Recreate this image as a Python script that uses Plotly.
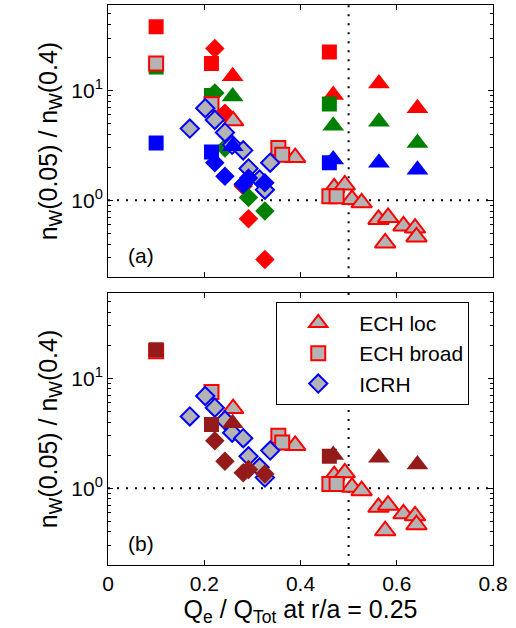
import plotly.graph_objects as go

# ---------------- data ----------------
# Experimental points (grey fill), identical in both panels
ech_loc_x = [0.26, 0.389, 0.47, 0.492, 0.507, 0.527, 0.562, 0.582, 0.576, 0.614, 0.638, 0.641]
ech_loc_y = [5.3, 2.45, 1.3, 1.38, 1.02, 0.95, 0.67, 0.70, 0.41, 0.585, 0.56, 0.465]
ech_broad_x = [0.1, 0.215, 0.354, 0.362, 0.46, 0.475]
ech_broad_y = [17.6, 7.5, 3.0, 2.6, 1.09, 1.09]
icrh_x = [0.17, 0.202, 0.222, 0.243, 0.258, 0.281, 0.292, 0.315, 0.326, 0.337]
icrh_y = [4.5, 6.9, 5.4, 4.15, 3.2, 2.85, 1.95, 1.55, 1.25, 2.2]

# Model points (filled)
sq_x = [0.1, 0.215, 0.46]
sq_red = [38.0, 17.6, 22.4]
sq_green = [16.4, 9.0, 7.55]
sq_blue = [3.33, 2.75, 2.2]
sq_dred = [18.2, 3.8, 1.95]

tri_x = [0.259, 0.468, 0.563, 0.643]
tri_red = [13.5, 9.1, 11.6, 6.9]
tri_green = [8.8, 4.77, 5.2, 3.33]
tri_blue = [3.1, 2.35, 2.2, 1.9]
tri_dred = [3.9, 2.0, 1.89, 1.64]

dia_x = [0.222, 0.243, 0.281, 0.292, 0.326]
dia_red = [24.1, 6.2, 1.35, 0.68, 0.29]
dia_green = [9.5, 3.0, 1.4, 1.06, 0.8]
dia_blue = [2.2, 1.66, 1.4, 1.6, 1.45]
dia_dred = [2.7, 1.76, 1.38, 1.48, 1.35]

x_ticks = [0, 0.2, 0.4, 0.6, 0.8]
x_ticklabels = ["0", "0.2", "0.4", "0.6", "0.8"]
y_ticks = [1, 10]
y_ticklabels = ["10<sup>0</sup>", "10<sup>1</sup>"]
y_minor = [0.2, 0.3, 0.4, 0.5, 0.6, 0.7, 0.8, 0.9, 2, 3, 4, 5, 6, 7, 8, 9, 20, 30, 40, 50, 60]

# ---------------- style ----------------
RED = "#FF0000"
GREEN = "#008000"
BLUE = "#0000FF"
DRED = "#951B1B"
GREY = "#B3B3B3"
FONT = "Liberation Sans, Arial, sans-serif"
SZ = {"square": 14, "triangle-up": 18, "diamond": 14}

fig = go.Figure()


def add_model(xs, ys, symbol, color, xa, ya):
    fig.add_trace(go.Scatter(
        x=xs, y=ys, mode="markers", xaxis=xa, yaxis=ya, showlegend=False,
        marker=dict(symbol=symbol, size=SZ[symbol] + 1, color=color, line=dict(width=0))))


def add_exp(xs, ys, symbol, edge, name, xa, ya, legend):
    fig.add_trace(go.Scatter(
        x=xs, y=ys, mode="markers", xaxis=xa, yaxis=ya, name=name, showlegend=legend,
        marker=dict(symbol=symbol, size=SZ[symbol], color=GREY, line=dict(width=2, color=edge))))


# Top panel (a): red, green, experiments, blue
for xs, ys, sym in [(sq_x, sq_red, "square"), (tri_x, tri_red, "triangle-up"), (dia_x, dia_red, "diamond")]:
    add_model(xs, ys, sym, RED, "x", "y")
for xs, ys, sym in [(sq_x, sq_green, "square"), (tri_x, tri_green, "triangle-up"), (dia_x, dia_green, "diamond")]:
    add_model(xs, ys, sym, GREEN, "x", "y")
add_exp(ech_loc_x, ech_loc_y, "triangle-up", RED, "ECH loc", "x", "y", False)
add_exp(ech_broad_x, ech_broad_y, "square", RED, "ECH broad", "x", "y", False)
add_exp(icrh_x, icrh_y, "diamond", BLUE, "ICRH", "x", "y", False)
for xs, ys, sym in [(sq_x, sq_blue, "square"), (tri_x, tri_blue, "triangle-up"), (dia_x, dia_blue, "diamond")]:
    add_model(xs, ys, sym, BLUE, "x", "y")

# Bottom panel (b): experiments, dark red
add_exp(ech_loc_x, ech_loc_y, "triangle-up", RED, "ECH loc", "x2", "y2", True)
add_exp(ech_broad_x, ech_broad_y, "square", RED, "ECH broad", "x2", "y2", True)
add_exp(icrh_x, icrh_y, "diamond", BLUE, "ICRH", "x2", "y2", True)
for xs, ys, sym in [(sq_x, sq_dred, "square"), (tri_x, tri_dred, "triangle-up"), (dia_x, dia_dred, "diamond")]:
    add_model(xs, ys, sym, DRED, "x2", "y2")

xcommon = dict(range=[0, 0.8], tickvals=x_ticks, ticktext=x_ticklabels, ticks="inside",
               ticklen=5, tickcolor="black", showline=True, linecolor="black", linewidth=1,
               mirror="allticks", showgrid=False, zeroline=False)
ycommon = dict(type="log", range=[-0.699, 1.778], tickvals=y_ticks, ticktext=y_ticklabels,
               ticks="inside", ticklen=5, tickcolor="black", showline=True, linecolor="black",
               linewidth=1, mirror="allticks", showgrid=False, zeroline=False,
               minor=dict(tickvals=y_minor, ticks="inside", ticklen=3, tickcolor="black", showgrid=False),
               title=dict(text="n<sub>W</sub>(0.05) / n<sub>W</sub>(0.4)", standoff=6))

fig.update_layout(
    width=516, height=628,
    margin=dict(l=108, r=23, t=5, b=63),
    paper_bgcolor="white", plot_bgcolor="white",
    font=dict(family=FONT, size=21, color="black"),
    xaxis=dict(domain=[0, 1], anchor="y", showticklabels=False, **xcommon),
    yaxis=dict(domain=[0.514, 1.0], anchor="x", **ycommon),
    xaxis2=dict(domain=[0, 1], anchor="y2",
                title=dict(text="Q<sub>e</sub> / Q<sub>Tot</sub> at r/a = 0.25", standoff=0), **xcommon),
    yaxis2=dict(domain=[0, 0.486], anchor="x2", **ycommon),
    legend=dict(x=0.437, y=0.47, xanchor="left", yanchor="top", xref="paper", yref="paper",
                bordercolor="black", borderwidth=1, bgcolor="white",
                font=dict(family=FONT, size=21), itemwidth=72, tracegroupgap=0),
    showlegend=True,
)

# dotted reference lines
for xr, yr in [("x", "y"), ("x2", "y2")]:
    fig.add_shape(type="line", xref=xr + " domain", yref=yr, x0=0, x1=1, y0=1, y1=1,
                  line=dict(color="black", width=2, dash="2px,7px"), layer="below")
    fig.add_shape(type="line", xref=xr, yref=yr + " domain", x0=0.5, x1=0.5, y0=0, y1=1,
                  line=dict(color="black", width=2, dash="2px,7px"), layer="below")

fig.add_annotation(text="(a)", xref="x domain", yref="y domain", x=0.048, y=0.08,
                   xanchor="left", yanchor="middle", showarrow=False, font=dict(size=21))
fig.add_annotation(text="(b)", xref="x2 domain", yref="y2 domain", x=0.048, y=0.08,
                   xanchor="left", yanchor="middle", showarrow=False, font=dict(size=21))

fig.write_html("out.html", config={"displayModeBar": False})
